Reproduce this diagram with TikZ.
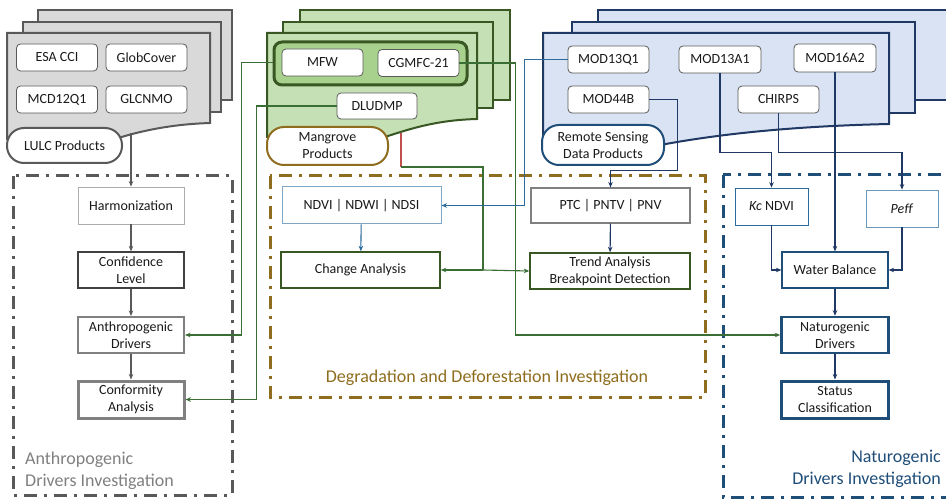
\documentclass[tikz,border=0pt]{standalone}
\usepackage{fontspec}
\setmainfont{Carlito}
\usetikzlibrary{arrows.meta}

\definecolor{grayline}{HTML}{595959}
\definecolor{grayfill}{HTML}{D9D9D9}
\definecolor{greenline}{HTML}{385723}
\definecolor{greenfill}{HTML}{C5E0B4}
\definecolor{greengrp}{HTML}{A9D18E}
\definecolor{blueline}{HTML}{203864}
\definecolor{bluefill}{HTML}{DAE3F3}
\definecolor{ddbrown}{HTML}{8F6D1F}
\definecolor{navy}{HTML}{1F4E79}
\definecolor{conngreen}{HTML}{3A6E35}
\definecolor{connblue}{HTML}{2A6A9C}
\definecolor{connred}{HTML}{C0504D}
\definecolor{txt}{HTML}{1A1A1A}

\tikzset{
  prod/.style={draw=grayline, fill=white, rounded corners=4pt, line width=0.8pt,
    minimum width=81pt, minimum height=27pt, inner sep=1pt},
  pill/.style={fill=white, line width=2pt, rounded corners=17pt,
    minimum height=37pt, align=center, inner sep=2pt},
  stepbox/.style={fill=white, minimum width=106pt, minimum height=36pt,
    align=center, inner sep=1pt},
  sheet/.style={line width=2pt, line join=miter},
  region/.style={line width=3pt, dash pattern=on 13pt off 7pt on 3pt off 7pt},
  arr/.style={-{Stealth[length=5.5pt,width=4.5pt]}, line width=1.1pt},
  biglabel/.style={font=\fontsize{18}{22}\selectfont, inner sep=0pt},
}

\begin{document}
\begin{tikzpicture}[x=1pt, y=-1pt, font=\fontsize{14}{17}\selectfont, text=txt]
\useasboundingbox (0,0) rectangle (946,500);
\clip (0,0) rectangle (946,500);
\fill[white] (0,0) rectangle (946,500);

% ---- investigation regions ----
\draw[region, grayline] (13,176) rectangle (232,495);
\draw[region, ddbrown] (270,176) rectangle (705,397);
\draw[region, navy] (723,175) rectangle (960,497);

\node[biglabel, text=gray, anchor=west, align=left] (lblA) at (25,471)
  {Anthropogenic\\Drivers Investigation};
\node[biglabel, text=ddbrown] (lblD) at (487,378)
  {Degradation and Deforestation Investigation};
\node[biglabel, text=navy, anchor=east, align=right] (lblN) at (941,469)
  {Naturogenic\\Drivers Investigation};

% ---- LULC product stack ----
\draw[sheet, draw=grayline, fill=grayfill] (38,10) rectangle (232,100);
\draw[sheet, draw=grayline, fill=grayfill] (23,22) rectangle (221,112);
\draw[sheet, draw=grayline, fill=grayfill] (7,33) -- (210,33) -- (210,123)
  .. controls (180,124) and (150,128) .. (115,139) -- (7,139) -- cycle;
\node[prod] (esa) at (57,57.5) {ESA CCI};
\node[prod] (glob) at (146.5,57.5) {GlobCover};
\node[prod] (mcd) at (57,99.5) {MCD12Q1};
\node[prod] (glc) at (146.5,99.5) {GLCNMO};
\node[pill, draw=grayline, minimum width=115pt, minimum height=35pt] (lulc) at (64.5,145.5) {LULC Products};

% ---- Mangrove product stack ----
\draw[sheet, draw=greenline, fill=greenfill] (300,10) rectangle (510,100);
\draw[sheet, draw=greenline, fill=greenfill] (283,22) rectangle (493,108);
\draw[sheet, draw=greenline, fill=greenfill] (267,33) -- (477,33) -- (477,119)
  .. controls (440,120) and (415,127) .. (385,137) -- (267,137) -- cycle;
\node[draw=greenline, fill=greengrp, line width=3pt, rounded corners=8pt,
  minimum width=193pt, minimum height=43pt] (mgrp) at (370.5,63.5) {};
\node[prod] (mfw) at (322.5,62.5) {MFW};
\node[prod] (cgm) at (418.5,63) {CGMFC-21};
\node[prod, minimum width=80pt, minimum height=26pt] (dlud) at (377,106) {DLUDMP};
\node[pill, draw=ddbrown, minimum width=121pt, minimum height=38pt] (mang) at (327.5,146) {Mangrove\\Products};

% ---- Remote sensing product stack ----
\draw[sheet, draw=blueline, fill=bluefill] (598,10) rectangle (960,100);
\draw[sheet, draw=blueline, fill=bluefill] (572,22) rectangle (915,113);
\draw[sheet, draw=blueline, fill=bluefill] (543,33) -- (889,33) -- (889,124)
  .. controls (800,126) and (720,133) .. (650,147) -- (543,147) -- cycle;
\node[prod] (m13q) at (608.5,59.5) {MOD13Q1};
\node[prod, minimum width=82pt] (m13a) at (720,59.5) {MOD13A1};
\node[prod, minimum width=82pt, minimum height=28pt] (m16) at (835,58) {MOD16A2};
\node[prod] (m44) at (608.5,99.5) {MOD44B};
\node[prod] (chirps) at (778.5,99.5) {CHIRPS};
\node[pill, draw=navy, minimum width=122pt, minimum height=40pt] (rs) at (603,145) {Remote Sensing\\Data Products};

% ---- anthropogenic chain ----
\node[stepbox, draw=gray!65, line width=0.8pt, minimum height=37pt] (harm) at (131,205.5) {Harmonization};
\node[stepbox, draw=black!75, line width=1.2pt] (conf) at (131,270) {Confidence\\Level};
\node[stepbox, draw=gray, line width=2pt] (anth) at (131,335) {Anthropogenic\\Drivers};
\node[stepbox, draw=gray, line width=3pt, minimum height=37pt] (cfm) at (131,399.5) {Conformity\\Analysis};

% ---- degradation chain ----
\node[stepbox, draw=connblue!60, line width=1pt, minimum width=159pt, minimum height=37pt] (ndvi) at (361.5,205.5) {NDVI | NDWI | NDSI};
\node[stepbox, draw=greenline, line width=1.5pt, minimum width=159pt] (chg) at (360.5,270) {Change Analysis};
\node[stepbox, draw=gray, line width=1.2pt, minimum width=159pt, minimum height=35pt] (ptc) at (610.5,205.5) {PTC | PNTV | PNV};
\node[stepbox, draw=greenline, line width=1.5pt, minimum width=160pt] (trend) at (610,271) {Trend Analysis\\Breakpoint Detection};

% ---- naturogenic chain ----
\node[stepbox, draw=connblue, line width=0.8pt, minimum width=73pt, minimum height=37pt] (kc) at (771.5,206.5) {\textit{Kc} NDVI};
\node[stepbox, draw=connblue!70, line width=0.8pt, minimum width=72pt, minimum height=37pt] (peff) at (902,208.5) {\textit{Peff}};
\node[stepbox, draw=navy, line width=1.2pt] (wb) at (835,270) {Water Balance};
\node[stepbox, draw=navy, line width=2.5pt, minimum width=107pt] (natd) at (835,335) {Naturogenic\\Drivers};
\node[stepbox, draw=navy, line width=3pt, minimum width=107pt, minimum height=37pt] (stat) at (835,399.5) {Status\\Classification};

% ---- connectors ----
\coordinate (lulcout) at (131,133);
\draw[arr, grayline] (lulcout) -- (harm);
\draw[arr, grayline] (harm) -- (conf);
\draw[arr, grayline] (conf) -- (anth);
\draw[arr, grayline] (anth) -- (cfm);

\draw[arr, conngreen] (mfw.west -| mgrp.west) -- ++(-31,0) |- (anth.east);
\draw[arr, conngreen] (dlud.west) -- ++(-80,0) |- (cfm.east);
\draw[arr, conngreen] (cgm.east) -- ++(56,0) |- (natd.west);

\coordinate (mout) at (401,133);
\coordinate (mbend) at (401,167);
\coordinate (jn) at (483,270);
\draw[line width=1.1pt, connred] (mout) -- (mbend);
\draw[line width=1.1pt, conngreen] (mbend) -| (jn);
\draw[arr, conngreen] (jn) -- (chg.east);
\draw[arr, conngreen] (jn) -- (trend.west);

\draw[arr, connblue] (m13q.west) -- ++(-43,0) |- (ndvi.east);
\draw[arr, connblue] (ndvi) -- (chg);
\draw[arr, blueline] (m44.east) -- ++(28,0) -- ++(0,71) -| (ptc.north);
\draw[arr, blueline] (ptc) -- (trend);

\draw[arr, blueline] (m13a.south) -- ++(0,79) -| (kc.north);
\draw[arr, blueline] (m16.south) -- (wb.north);
\draw[arr, blueline] (chirps.south) -- ++(0,39) -| (peff.north);
\draw[arr, blueline] (kc.south) |- (wb.west);
\draw[arr, blueline] (peff.south) |- (wb.east);
\draw[arr, blueline] (wb) -- (natd);
\draw[arr, blueline] (natd) -- (stat);
\end{tikzpicture}
\end{document}
